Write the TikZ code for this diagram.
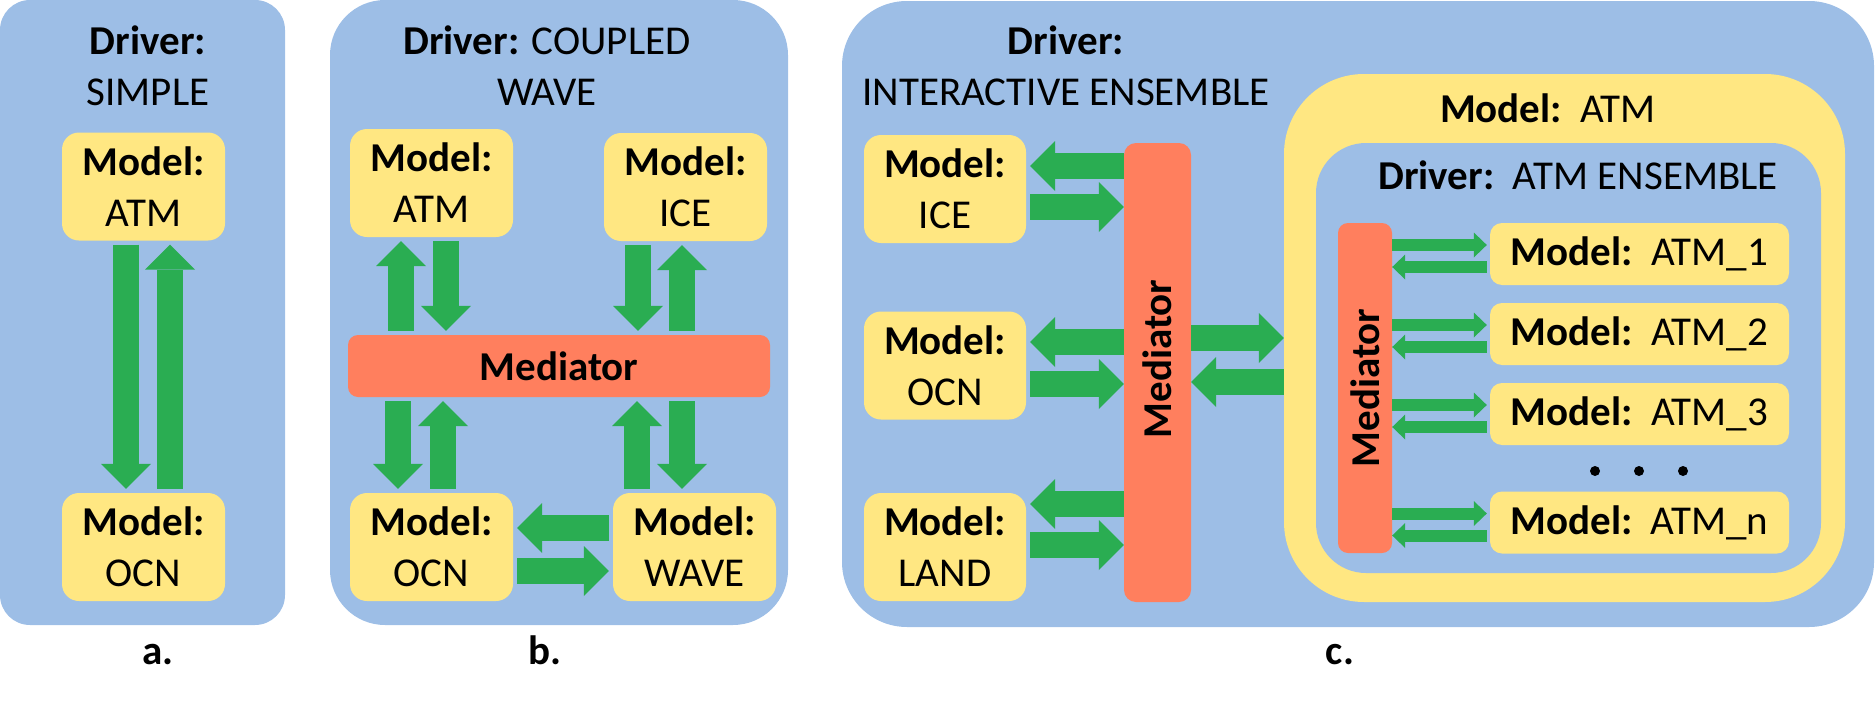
\documentclass[tikz,border=0pt]{standalone}
\usepackage{fontspec}
\setmainfont{Carlito}
\usetikzlibrary{arrows.meta}
\definecolor{drvblue}{HTML}{9DBEE6}
\definecolor{mdlyellow}{HTML}{FFE782}
\definecolor{medorange}{HTML}{FF7F5E}
\definecolor{flowgreen}{HTML}{2AAD52}
\tikzset{
  panel/.style={fill=drvblue, inner sep=0pt},
  model/.style={fill=mdlyellow, rounded corners=17pt, align=center, inner sep=0pt,
    minimum width=163pt, minimum height=108pt},
  member/.style={fill=mdlyellow, rounded corners=12pt, inner sep=0pt,
    minimum width=299pt, minimum height=62pt},
  mediator/.style={fill=medorange, rounded corners=10pt, inner sep=0pt},
  bigarrow/.style={flowgreen, line width=26pt,
    -{Triangle[length=25pt, width=50pt, line width=0pt]}},
  smallarrow/.style={flowgreen, line width=12pt,
    -{Triangle[length=13pt, width=25pt, line width=0pt]}},
  gap/.style={shorten <=4pt, shorten >=4pt},
}
\begin{document}
\begin{tikzpicture}[x=1pt, y=-1pt, font=\fontsize{41}{51}\selectfont]
\useasboundingbox (0,0) rectangle (1875,720);
% a. simple driver
\node (panelA) [panel, rounded corners=30pt, minimum width=285pt, minimum height=625pt] at (142.5,312.5) {};
\node (drvA) [align=center] at (148,66) {\textbf{Driver:}\\SIMPLE};
\node (atmA) [model] at (143.5,186.5) {\textbf{Model:}\\ATM};
\node (ocnA) [model] at (143.5,547) {\textbf{Model:}\\OCN};
\draw[bigarrow, gap] ([xshift=-17.5pt]atmA.south) -- ([xshift=-17.5pt]ocnA.north);
\draw[bigarrow, gap] ([xshift=26.5pt]ocnA.north) -- ([xshift=26.5pt]atmA.south);
\node (lblA) [anchor=base] at (158,664) {\textbf{a.}};
% b. coupled wave driver
\node (panelB) [panel, rounded corners=55pt, minimum width=458pt, minimum height=625pt] at (559,312.5) {};
\node (drvB) [align=center] at (547,66) {\textbf{Driver:} COUPLED\\WAVE};
\node (atmB) [model] at (431.5,183) {\textbf{Model:}\\ATM};
\node (iceB) [model] at (685.5,187) {\textbf{Model:}\\ICE};
\node (medB) [mediator, minimum width=422pt, minimum height=62pt] at (559,366) {\textbf{Mediator}};
\node (ocnB) [model] at (431.5,547) {\textbf{Model:}\\OCN};
\node (waveB) [model] at (694.5,547) {\textbf{Model:}\\WAVE};
\draw[bigarrow, gap] ([xshift=-30.5pt]atmB.south |- medB.north) -- ([xshift=-30.5pt]atmB.south);
\draw[bigarrow, gap] ([xshift=14.5pt]atmB.south) -- ([xshift=14.5pt]atmB.south |- medB.north);
\draw[bigarrow, gap] ([xshift=-47.5pt]iceB.south) -- ([xshift=-47.5pt]iceB.south |- medB.north);
\draw[bigarrow, gap] ([xshift=-3.5pt]iceB.south |- medB.north) -- ([xshift=-3.5pt]iceB.south);
\draw[bigarrow, gap] ([xshift=-33.5pt]ocnB.north |- medB.south) -- ([xshift=-33.5pt]ocnB.north);
\draw[bigarrow, gap] ([xshift=11.5pt]ocnB.north) -- ([xshift=11.5pt]ocnB.north |- medB.south);
\draw[bigarrow, gap] ([xshift=-57.5pt]waveB.north) -- ([xshift=-57.5pt]waveB.north |- medB.south);
\draw[bigarrow, gap] ([xshift=-12.5pt]waveB.north |- medB.south) -- ([xshift=-12.5pt]waveB.north);
\draw[bigarrow, gap] ([yshift=19pt]waveB.west) -- ([yshift=19pt]waveB.west -| ocnB.east);
\draw[bigarrow, gap] ([yshift=-24pt]ocnB.east) -- ([yshift=-24pt]ocnB.east -| waveB.west);
\node (lblB) [anchor=base] at (545,664) {\textbf{b.}};
% c. interactive ensemble driver
\node (panelC) [panel, rounded corners=65pt, minimum width=1032pt, minimum height=626pt] at (1358,314) {};
\node (drvC) [align=center] at (1066,66) {\textbf{Driver:}\\INTERACTIVE ENSEMBLE};
\node (iceC) [model, minimum width=162pt] at (945,189) {\textbf{Model:}\\ICE};
\node (ocnC) [model, minimum width=162pt] at (945,365.5) {\textbf{Model:}\\OCN};
\node (landC) [model, minimum width=162pt] at (945,547) {\textbf{Model:}\\LAND};
\node (medC) [mediator, rounded corners=12pt, minimum width=67pt, minimum height=459pt] at (1157.5,372.5)
  {\rotatebox{90}{\hspace{27pt}\textbf{Mediator}}};
\draw[bigarrow, shorten >=4pt] ([yshift=23pt]iceC.east -| medC.west) -- ([yshift=23pt]iceC.east);
\draw[bigarrow, shorten <=4pt] ([yshift=-18pt]iceC.east) -- ([yshift=-18pt]iceC.east -| medC.west);
\draw[bigarrow, shorten >=4pt] ([yshift=23.5pt]ocnC.east -| medC.west) -- ([yshift=23.5pt]ocnC.east);
\draw[bigarrow, shorten <=4pt] ([yshift=-18.5pt]ocnC.east) -- ([yshift=-18.5pt]ocnC.east -| medC.west);
\draw[bigarrow, shorten >=4pt] ([yshift=43pt]landC.east -| medC.west) -- ([yshift=43pt]landC.east);
\draw[bigarrow, shorten <=4pt] ([yshift=2pt]landC.east) -- ([yshift=2pt]landC.east -| medC.west);
% the ATM model holds its own ensemble driver
\node (atmOuter) [fill=mdlyellow, rounded corners=80pt, inner sep=0pt, minimum width=561pt, minimum height=528pt] at (1564.5,338) {};
\node (ensInner) [panel, rounded corners=50pt, minimum width=505pt, minimum height=430pt] at (1568.5,358) {};
\node (mdlAtm) at (1548,108) {\textbf{Model:}~~ATM};
\node (drvEns) at (1578,175) {\textbf{Driver:}~~ATM ENSEMBLE};
\draw[bigarrow] (atmOuter.west -| medC.east) -- (atmOuter.west);
\draw[bigarrow] ([yshift=-44pt]atmOuter.west) -- ([yshift=-44pt]atmOuter.west -| medC.east);
\node (medIn) [mediator, minimum width=54pt, minimum height=330pt] at (1365,388) {\rotatebox{90}{\textbf{Mediator}}};
\foreach \k/\y in {1/254, 2/334, 3/414, n/522.5} {
  \node (atm\k) [member] at (1639.5,\y) {\textbf{Model:}~~ATM\_\k};
  \draw[smallarrow, shorten >=3pt] ([yshift=9pt]atm\k.west -| medIn.east) -- ([yshift=9pt]atm\k.west);
  \draw[smallarrow, shorten <=3pt] ([yshift=-13pt]atm\k.west) -- ([yshift=-13pt]atm\k.west -| medIn.east);
}
\foreach \x in {1595,1639,1683} \fill (\x,471) circle (5pt);
\node (lblC) [anchor=base] at (1340,664) {\textbf{c.}};
\end{tikzpicture}
\end{document}
